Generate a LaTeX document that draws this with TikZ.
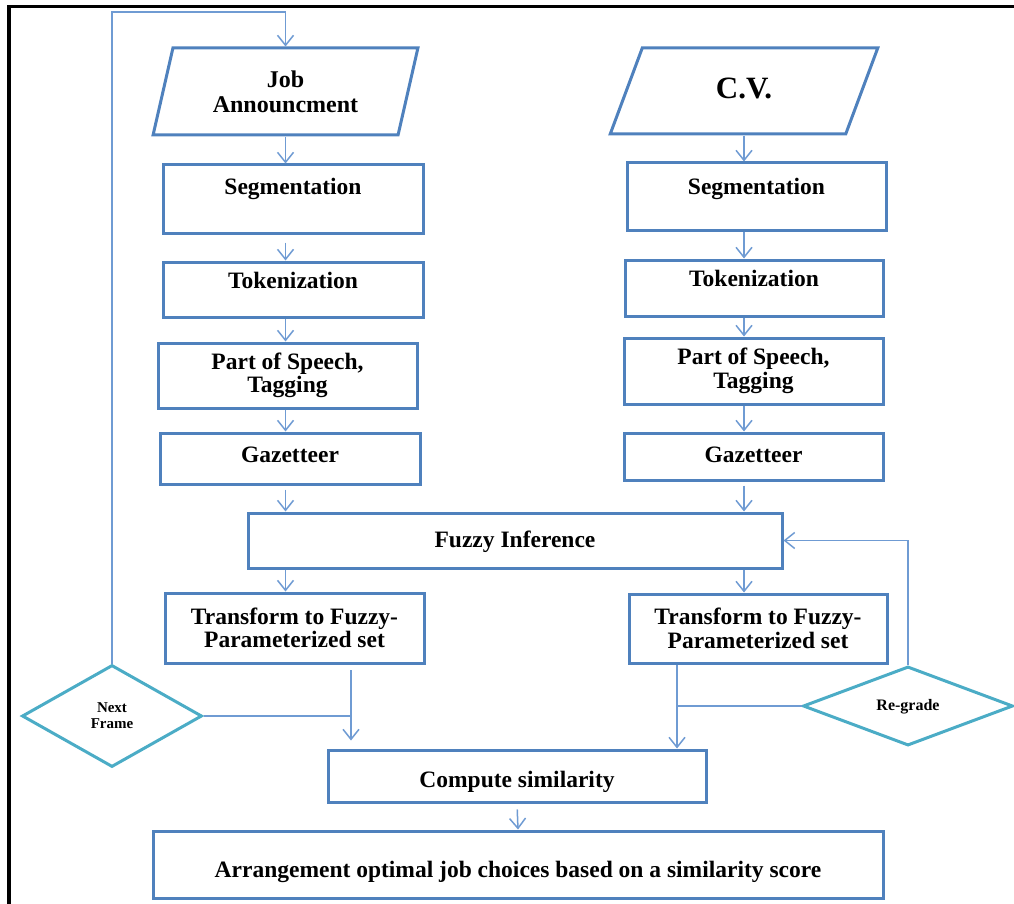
\documentclass[tikz,border=0pt]{standalone}
\usepackage{fontspec}
\setmainfont{Liberation Serif}
\usetikzlibrary{shapes.geometric,arrows.meta,calc}
\definecolor{boxblue}{HTML}{4F81BD}
\definecolor{lineblue}{HTML}{6F9BD3}
\definecolor{diacyan}{HTML}{4BACC6}
\begin{document}
\begin{tikzpicture}[x=1pt,y=-1pt,
  box/.style={draw=boxblue, line width=3pt, rectangle, inner sep=0pt, align=center,
    font=\bfseries\fontsize{23.5}{23.5}\selectfont},
  para/.style={draw=boxblue, line width=3pt, trapezium, trapezium stretches=true,
    trapezium left angle=73, trapezium right angle=107, inner sep=0pt, align=center},
  dia/.style={draw=diacyan, line width=3pt, diamond, inner sep=0pt, align=center},
  conn/.style={draw=lineblue, line width=1.5pt},
  arr/.style={conn, -{Straight Barb[length=10pt,width=16pt]}},
]
\useasboundingbox (0,0) rectangle (1014,904);
\draw[line width=3.5pt, line cap=rect] (9,1000) -- (9,6.5) -- (1100,6.5);

% inputs
\node[para, minimum width=265, minimum height=87, font=\bfseries\fontsize{24}{25}\selectfont] (job) at (285.5,91.5) {Job\\Announcment};
\node[para, minimum width=268, minimum height=86, font=\bfseries\fontsize{31}{31}\selectfont, text height=22pt, text depth=7pt] (cv) at (744,91) {C.V.};

% left column
\node[box, minimum width=260, minimum height=68, text height=16pt, text depth=24pt] (segL) at (293,199) {Segmentation};
\node[box, minimum width=260, minimum height=55, text height=16pt, text depth=19pt] (tokL) at (293,289.5) {Tokenization};
\node[box, minimum width=259, minimum height=65] (posL) at (287.5,375.5) {Part of Speech,\\Tagging};
\node[box, minimum width=260, minimum height=51, text height=16pt, text depth=9pt] (gazL) at (290,458.5) {Gazetteer};

% right column
\node[box, minimum width=259, minimum height=67, text height=16pt, text depth=21pt] (segR) at (756.5,196.5) {Segmentation};
\node[box, minimum width=258, minimum height=56, text height=16pt, text depth=19pt] (tokR) at (754,288) {Tokenization};
\node[box, minimum width=259, minimum height=66] (posR) at (753.5,371) {Part of Speech,\\Tagging};
\node[box, minimum width=259, minimum height=47, text height=16pt, text depth=5pt] (gazR) at (753.5,456.5) {Gazetteer};

% middle
\node[box, minimum width=534, minimum height=55, text height=16pt, text depth=2pt] (fi) at (515,540.5) {Fuzzy Inference};
\node[box, minimum width=259, minimum height=70] (tl) at (294.5,628) {Transform to Fuzzy-\\Parameterized set};
\node[box, minimum width=258, minimum height=69] (tr) at (758,628.5) {Transform to Fuzzy-\\Parameterized set};
\node[box, minimum width=378, minimum height=52, text height=27pt, text depth=5pt] (cs) at (517,776) {Compute similarity};
\node[box, minimum width=730, minimum height=67, text height=30pt, text depth=5pt] (ar) at (518,864.5) {Arrangement optimal job choices based on a similarity score};

% decisions
\node[dia, minimum width=180, minimum height=102, font=\bfseries\fontsize{15}{16}\selectfont] (nf) at (112,716) {Next\\Frame};
\node[dia, minimum width=210, minimum height=75, font=\bfseries\fontsize{16}{16}\selectfont, text height=12pt, text depth=4pt] (rg) at (908,706) {Re-grade};

% helper coordinates
\coordinate (topy) at (0,12);
\coordinate (lj) at (351,670);
\coordinate (rj) at (677,0);

% left column arrows
\draw[arr] (job.south) -- (job.south |- segL.north);
\draw[arr, shorten <=8pt] (segL.south -| job) -- (tokL.north -| job);
\draw[arr] (tokL.south -| job) -- (posL.north -| job);
\draw[arr] (posL.south -| job) -- (gazL.north -| job);
\draw[arr, shorten <=4pt] (gazL.south -| job) -- (fi.north -| job);
\draw[arr] (fi.south -| job) -- (tl.north -| job);

% right column arrows
\draw[arr] (cv.south) -- (cv.south |- segR.north);
\draw[arr] (segR.south -| cv) -- (tokR.north -| cv);
\draw[arr] (tokR.south -| cv) -- (posR.north -| cv);
\draw[arr] (posR.south -| cv) -- (gazR.north -| cv);
\draw[arr, shorten <=4pt] (gazR.south -| cv) -- (fi.north -| cv);
\draw[arr] (fi.south -| cv) -- (tr.north -| cv);

% next frame loop
\draw[arr] (nf.north) |- (job.north |- topy) -- (job.north);
\draw[conn] (nf.east) -- (nf.east -| lj);
\draw[arr, shorten >=8pt] (lj) -- (lj |- cs.north);

% re-grade loop
\draw[arr] (rg.north) |- (fi.east);
\draw[conn] (rg.west) -- (rg.west -| rj);
\draw[arr] (tr.south -| rj) -- (cs.north -| rj);

% final
\draw[arr, shorten <=6pt] (cs.south) -- (ar.north);
\end{tikzpicture}
\end{document}
